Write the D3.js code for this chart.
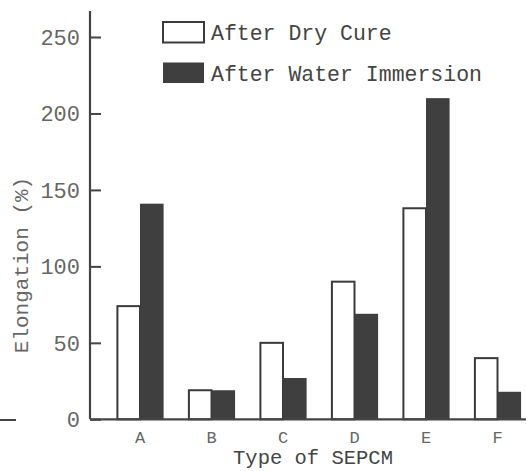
<!DOCTYPE html>
<html>
<head>
<meta charset="utf-8">
<script src="https://cdn.jsdelivr.net/npm/d3@7"></script>
<style>
  body { margin: 0; background: #fff; }
  text { font-family: "Liberation Mono", "Courier New", monospace; }
</style>
</head>
<body>
<div id="chart"></div>
<script>
// data
const types = ["A", "B", "C", "D", "E", "F"];
const seriesNames = ["After Dry Cure", "After Water Immersion"];
const dryCure = [74, 19, 50, 90, 138, 40];
const waterImmersion = [141, 19, 27, 69, 210, 18];
const yTicks = [0, 50, 100, 150, 200, 250];

const width = 526, height = 471;
const axisX = 90, axisY = 419.3;
const ink = "#444", light = "#666";

const svg = d3.select("#chart").append("svg")
    .attr("width", width)
    .attr("height", height);

// scales
const y = d3.scaleLinear()
    .domain([0, 267])
    .range([axisY, 11]);

const x0 = d3.scaleBand()
    .domain(types)
    .range([104.25, 533.25])
    .paddingInner(0.34)
    .paddingOuter(0.17);

const x1 = d3.scaleBand()
    .domain(seriesNames)
    .range([0, x0.bandwidth()]);

const rows = types.map((t, i) => ({type: t, values: [dryCure[i], waterImmersion[i]]}));

// bars
const groups = svg.append("g").selectAll("g")
    .data(rows)
    .join("g")
    .attr("transform", d => `translate(${x0(d.type)},0)`);

groups.selectAll("rect")
    .data(d => d.values.map((v, j) => ({name: seriesNames[j], value: v})))
    .join("rect")
    .attr("x", d => x1(d.name) + (d.name === seriesNames[0] ? 1 : 0))
    .attr("y", d => y(d.value))
    .attr("width", d => x1.bandwidth() - (d.name === seriesNames[0] ? 1 : 0))
    .attr("height", d => y(0) - y(d.value))
    .attr("fill", d => d.name === seriesNames[0] ? "#fff" : "#3f3f3f")
    .attr("stroke", d => d.name === seriesNames[0] ? "#3a3a3a" : "none")
    .attr("stroke-width", 2);

// y axis (ticks point inward)
const yAxis = svg.append("g")
    .attr("transform", `translate(${axisX},0)`)
    .call(d3.axisRight(y).tickValues(yTicks).tickSize(11).tickFormat(""));
yAxis.select(".domain").remove();
yAxis.selectAll("line").attr("stroke", ink).attr("stroke-width", 2);

svg.append("line")
    .attr("x1", axisX).attr("x2", axisX)
    .attr("y1", y(267)).attr("y2", axisY)
    .attr("stroke", ink).attr("stroke-width", 2.2);

svg.append("g").selectAll("text")
    .data(yTicks)
    .join("text")
    .attr("x", 80)
    .attr("y", d => y(d))
    .attr("dy", "0.36em")
    .attr("text-anchor", "end")
    .attr("font-size", 22)
    .attr("fill", light)
    .text(d => d);

// x axis
svg.append("line")
    .attr("x1", axisX).attr("x2", width)
    .attr("y1", axisY).attr("y2", axisY)
    .attr("stroke", ink).attr("stroke-width", 2.2);

// stray rule at the left edge
svg.append("line")
    .attr("x1", 0).attr("x2", 16)
    .attr("y1", 420).attr("y2", 420)
    .attr("stroke", ink).attr("stroke-width", 2);

svg.append("g").selectAll("text")
    .data(types)
    .join("text")
    .attr("x", d => x0(d) + x0.bandwidth() / 2)
    .attr("y", 436.5)
    .attr("dy", "0.36em")
    .attr("text-anchor", "middle")
    .attr("font-size", 17)
    .attr("fill", light)
    .text(d => d);

// axis titles
svg.append("text")
    .attr("x", 313)
    .attr("y", 464)
    .attr("text-anchor", "middle")
    .attr("font-size", 20.5)
    .attr("fill", ink)
    .text("Type of SEPCM");

svg.append("text")
    .attr("transform", "translate(20,265) rotate(-90)")
    .attr("dy", "0.36em")
    .attr("text-anchor", "middle")
    .attr("font-size", 21)
    .attr("fill", light)
    .text("Elongation (%)");

// legend
const legend = svg.append("g").selectAll("g")
    .data(seriesNames)
    .join("g")
    .attr("transform", (d, i) => `translate(163,${22 + i * 40.5})`);

legend.append("rect")
    .attr("width", 41)
    .attr("height", 20.5)
    .attr("fill", (d, i) => i === 0 ? "#fff" : "#3f3f3f")
    .attr("stroke", (d, i) => i === 0 ? "#3a3a3a" : "none")
    .attr("stroke-width", 2);

legend.append("text")
    .attr("x", 48)
    .attr("y", 10.5)
    .attr("dy", "0.36em")
    .attr("font-size", 21.5)
    .attr("fill", ink)
    .text(d => d);
</script>
</body>
</html>
